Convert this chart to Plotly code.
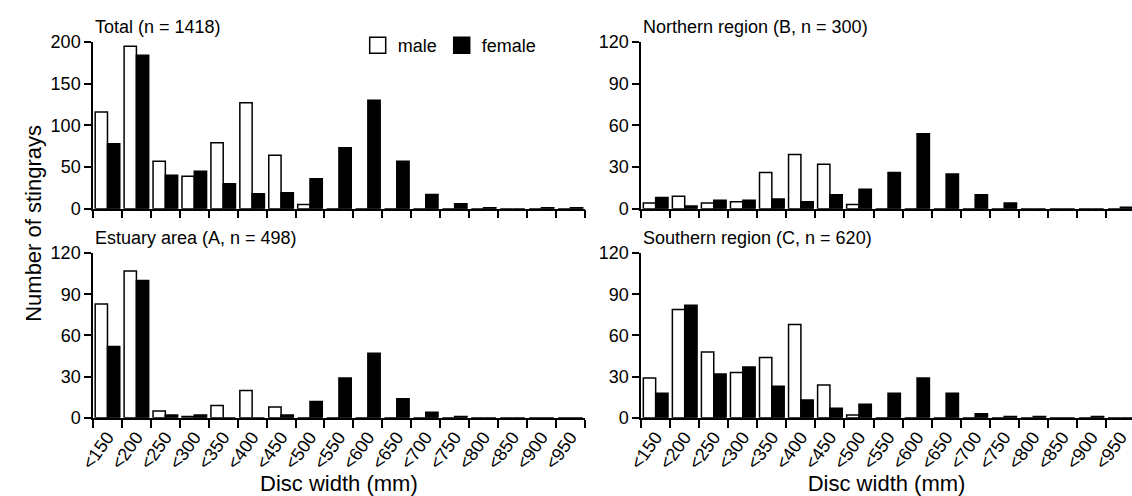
import plotly.graph_objects as go

# Disc-width size classes (mm)
categories = ["<150", "<200", "<250", "<300", "<350", "<400", "<450", "<500", "<550",
              "<600", "<650", "<700", "<750", "<800", "<850", "<900", "<950"]

# Counts of stingrays per size class, by sex
total_male = [116, 195, 57, 39, 79, 127, 64, 5, 0, 0, 0, 0, 0, 0, 0, 0, 0]
total_female = [78, 184, 40, 45, 30, 18, 19, 36, 73, 130, 57, 17, 6, 1, 0, 1, 1]

north_male = [4, 9, 4, 5, 26, 39, 32, 3, 0, 0, 0, 0, 0, 0, 0, 0, 0]
north_female = [8, 2, 6, 6, 7, 5, 10, 14, 26, 54, 25, 10, 4, 0, 0, 0, 1]

estuary_male = [83, 107, 5, 1, 9, 20, 8, 0, 0, 0, 0, 0, 0, 0, 0, 0, 0]
estuary_female = [52, 100, 2, 2, 0, 0, 2, 12, 29, 47, 14, 4, 1, 0, 0, 0, 0]

south_male = [29, 79, 48, 33, 44, 68, 24, 2, 0, 0, 0, 0, 0, 0, 0, 0, 0]
south_female = [18, 82, 32, 37, 23, 13, 7, 10, 18, 29, 18, 3, 1, 1, 0, 1, 0]

panel_titles = ["Total (n = 1418)", "Northern region (B, n = 300)",
                "Estuary area (A, n = 498)", "Southern region (C, n = 620)"]

W, H = 1132, 496
FONT = "Liberation Sans, Arial, sans-serif"

def px_x(p):
    return p / W

def px_y(p):
    return (H - p) / H

# panel geometry (pixels): left/right plot edges, top/bottom rows
left_dom = [px_x(80), px_x(578)]
right_dom = [px_x(635), 1.0]
top_dom = [px_y(207), px_y(33.3)]
bot_dom = [px_y(425), px_y(253.3)]

panels = [
    # (male, female, xdomain, ydomain, yrange, dtick, xrange, show x labels)
    (total_male, total_female, left_dom, top_dom, 200, 50, [-0.5, 16.5], False),
    (north_male, north_female, right_dom, top_dom, 120, 30, [-0.5, 16.4], False),
    (estuary_male, estuary_female, left_dom, bot_dom, 120, 30, [-0.5, 16.5], True),
    (south_male, south_female, right_dom, bot_dom, 120, 30, [-0.5, 16.4], True),
]

fig = go.Figure()
layout = {}
annotations = []

for i, (male, female, xd, yd, ymax, dt, xr, showlab) in enumerate(panels):
    n = "" if i == 0 else str(i + 1)
    xa, ya = "x" + n, "y" + n
    fig.add_trace(go.Bar(x=categories, y=male, xaxis=xa, yaxis=ya, name="male",
                         marker=dict(color="white", line=dict(color="black", width=1.5)),
                         showlegend=False))
    fig.add_trace(go.Bar(x=categories, y=female, xaxis=xa, yaxis=ya, name="female",
                         marker=dict(color="black", line=dict(color="black", width=1.5)),
                         showlegend=False))
    layout["xaxis" + n] = dict(
        domain=xd, anchor=ya, type="category", range=xr,
        showline=True, linecolor="black", linewidth=1.5,
        ticks="outside", tickson="boundaries", ticklen=8, tickwidth=1.5, tickcolor="black",
        showticklabels=showlab, tickangle=-55,
        tickfont=dict(family=FONT, size=18, color="black"),
        showgrid=False, zeroline=False,
        title=dict(text="Disc width (mm)" if showlab else "",
                   font=dict(family=FONT, size=22, color="black"), standoff=0),
    )
    layout["yaxis" + n] = dict(
        domain=yd, anchor=xa, range=[0, ymax], dtick=dt,
        showline=True, linecolor="black", linewidth=1.5,
        ticks="outside", ticklen=7, tickwidth=1.5, tickcolor="black",
        tickfont=dict(family=FONT, size=18, color="black"),
        showgrid=False, zeroline=False,
    )
    annotations.append(dict(
        text=panel_titles[i], xref="paper", yref="paper",
        x=xd[0], y=yd[1] + 3 / H, xanchor="left", yanchor="bottom",
        showarrow=False, font=dict(family=FONT, size=18, color="black"),
    ))

annotations.append(dict(
    text="Number of stingrays", xref="paper", yref="paper",
    x=px_x(19), y=px_y(222), xanchor="center", yanchor="middle", textangle=-90,
    showarrow=False, font=dict(family=FONT, size=22, color="black"),
))

# legend entries drawn as square markers
fig.add_trace(go.Scatter(x=[None], y=[None], mode="markers", name="male",
                         marker=dict(symbol="square", size=16, color="white",
                                     line=dict(color="black", width=1.5))))
fig.add_trace(go.Scatter(x=[None], y=[None], mode="markers", name="female",
                         marker=dict(symbol="square", size=16, color="black",
                                     line=dict(color="black", width=1.5))))

fig.update_layout(
    width=W, height=H,
    margin=dict(l=0, r=0, t=0, b=0),
    paper_bgcolor="white", plot_bgcolor="white",
    barmode="group", bargap=0.15, bargroupgap=0,
    font=dict(family=FONT, size=18, color="black"),
    showlegend=True,
    legend=dict(orientation="h", x=px_x(348), y=px_y(37), xanchor="left", yanchor="middle",
                font=dict(family=FONT, size=18, color="black"),
                bgcolor="rgba(0,0,0,0)", itemclick=False),
    annotations=annotations,
    **layout,
)

fig.write_html("out.html")
